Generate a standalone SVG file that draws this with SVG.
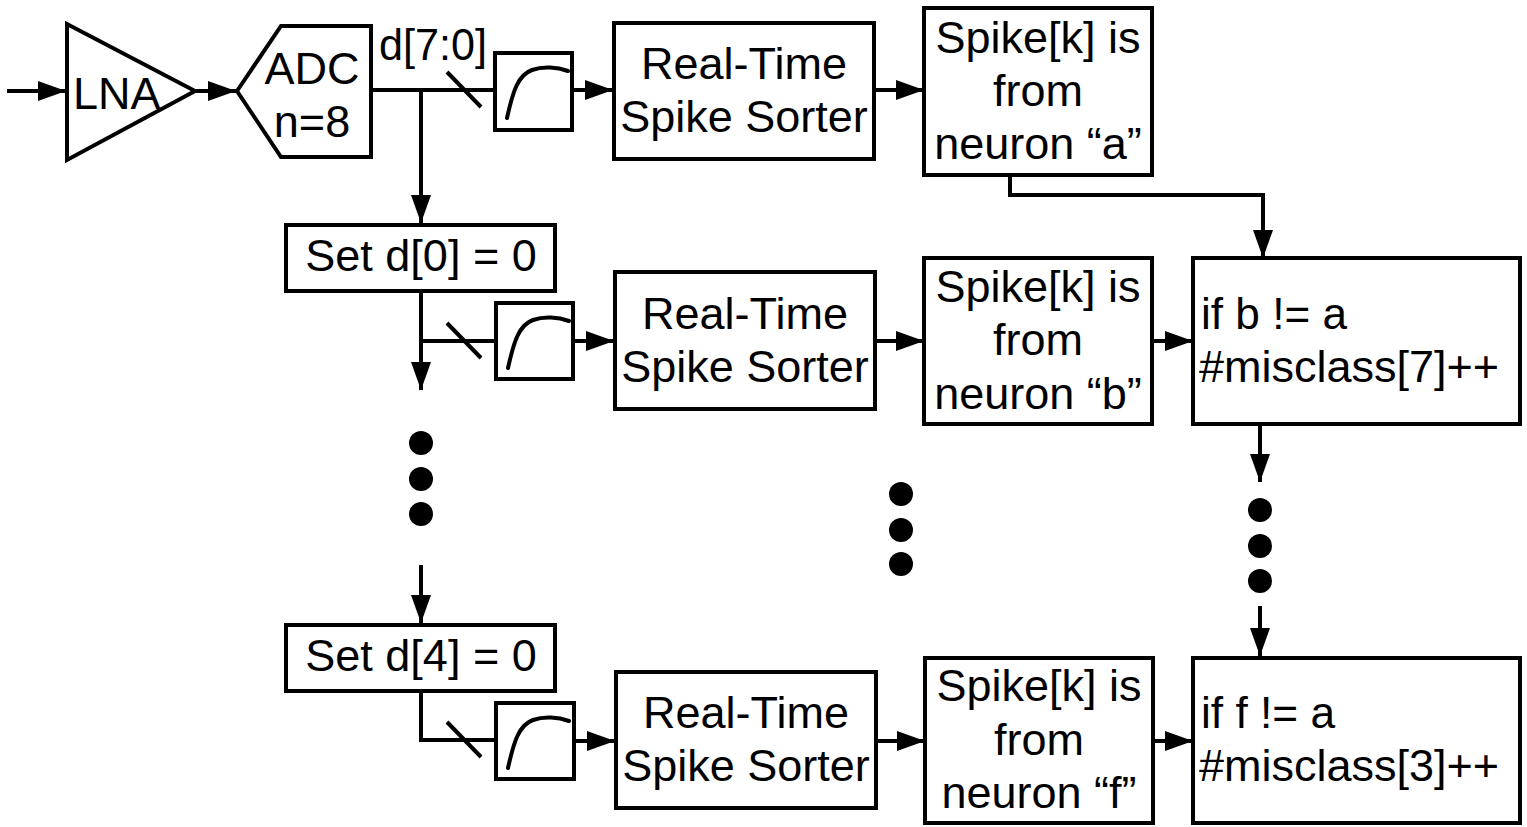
<svg xmlns="http://www.w3.org/2000/svg" width="1527" height="827" viewBox="0 0 1527 827">
<style>
.b{fill:#fff;stroke:#000;stroke-width:4;stroke-linejoin:miter}
.l{fill:none;stroke:#000;stroke-width:4}
.c{fill:none;stroke:#000;stroke-width:4;stroke-linecap:round}
text{font-family:"Liberation Sans",Arial,sans-serif;font-size:45px;fill:#000}
.m{text-anchor:middle}
.d{fill:#000}
</style>
<defs>
<marker id="a" markerUnits="userSpaceOnUse" markerWidth="28" markerHeight="22" refX="28" refY="11" orient="auto"><path d="M0 1L28 11L0 21Z" fill="#000"/></marker>
<g id="curve"><path class="c" d="M0 65C6 38 11 22 25 17C36 13 50 14 61 18"/></g>
</defs>
<rect width="1527" height="827" fill="#fff"/>
<g id="connectors">
<path class="l" d="M7 91H66" marker-end="url(#a)"/>
<path class="l" d="M196 91H236" marker-end="url(#a)"/>
<path class="l" d="M371 90H495"/>
<path class="l" d="M447 72L481 107"/>
<path class="l" d="M421 90V223" marker-end="url(#a)"/>
<path class="l" d="M572 90H613" marker-end="url(#a)"/>
<path class="l" d="M874 90H924" marker-end="url(#a)"/>
<path class="l" d="M1010 175V195H1263V258" marker-end="url(#a)"/>
<path class="l" d="M421 291V390" marker-end="url(#a)"/>
<path class="l" d="M421 341H496"/>
<path class="l" d="M447 323L481 358"/>
<path class="l" d="M573 341H614" marker-end="url(#a)"/>
<path class="l" d="M875 341H924" marker-end="url(#a)"/>
<path class="l" d="M1152 341H1193" marker-end="url(#a)"/>
<path class="l" d="M1260 424V482" marker-end="url(#a)"/>
<path class="l" d="M421 565V623" marker-end="url(#a)"/>
<path class="l" d="M1260 606V656" marker-end="url(#a)"/>
<path class="l" d="M421 691V740H496"/>
<path class="l" d="M447 722L481 757"/>
<path class="l" d="M574 741H615" marker-end="url(#a)"/>
<path class="l" d="M876 741H925" marker-end="url(#a)"/>
<path class="l" d="M1153 741H1193" marker-end="url(#a)"/>
</g>
<g id="lna"><path class="b" d="M67 24V160L195 91Z"/><text x="73" y="109">LNA</text></g>
<g id="adc"><path class="b" d="M237 91L281 26H371V157H281Z"/><text class="m" x="312" y="84">ADC</text><text class="m" x="312" y="137">n=8</text></g>
<g id="bus-label"><text x="379" y="60" textLength="108" lengthAdjust="spacingAndGlyphs">d[7:0]</text></g>
<g id="filter-1"><rect class="b" x="495" y="53" width="77" height="77"/><use href="#curve" x="507" y="53"/></g>
<g id="sorter-1"><rect class="b" x="614" y="23" width="260" height="136"/><text class="m" x="744" y="79">Real-Time</text><text class="m" x="744" y="132">Spike Sorter</text></g>
<g id="spike-a"><rect class="b" x="924" y="8" width="228" height="167"/><text class="m" x="1038" y="53">Spike[k] is</text><text class="m" x="1038" y="106">from</text><text class="m" x="1038" y="159">neuron “a”</text></g>
<g id="set-0"><rect class="b" x="286" y="225" width="269" height="66"/><text class="m" x="421" y="271">Set d[0] = 0</text></g>
<g id="filter-2"><rect class="b" x="496" y="303" width="77" height="76"/><use href="#curve" x="508" y="303"/></g>
<g id="sorter-2"><rect class="b" x="615" y="272" width="260" height="137"/><text class="m" x="745" y="329">Real-Time</text><text class="m" x="745" y="382">Spike Sorter</text></g>
<g id="spike-b"><rect class="b" x="924" y="258" width="228" height="166"/><text class="m" x="1038" y="302">Spike[k] is</text><text class="m" x="1038" y="355">from</text><text class="m" x="1038" y="409">neuron “b”</text></g>
<g id="misclass-7"><rect class="b" x="1193" y="258" width="327" height="166"/><text x="1201" y="329" textLength="146" lengthAdjust="spacingAndGlyphs">if b != a</text><text x="1199" y="382">#misclass[7]++</text></g>
<g id="dots-left"><circle class="d" cx="421" cy="443" r="12"/><circle class="d" cx="421" cy="479" r="12"/><circle class="d" cx="421" cy="514" r="12"/></g>
<g id="dots-mid"><circle class="d" cx="901" cy="494" r="12"/><circle class="d" cx="901" cy="530" r="12"/><circle class="d" cx="901" cy="564" r="12"/></g>
<g id="dots-right"><circle class="d" cx="1260" cy="510" r="12"/><circle class="d" cx="1260" cy="546" r="12"/><circle class="d" cx="1260" cy="581" r="12"/></g>
<g id="set-4"><rect class="b" x="286" y="625" width="269" height="66"/><text class="m" x="421" y="671">Set d[4] = 0</text></g>
<g id="filter-3"><rect class="b" x="496" y="703" width="78" height="76"/><use href="#curve" x="508" y="703"/></g>
<g id="sorter-3"><rect class="b" x="616" y="672" width="260" height="136"/><text class="m" x="746" y="728">Real-Time</text><text class="m" x="746" y="781">Spike Sorter</text></g>
<g id="spike-f"><rect class="b" x="925" y="658" width="228" height="165"/><text class="m" x="1039" y="701">Spike[k] is</text><text class="m" x="1039" y="755">from</text><text class="m" x="1039" y="808">neuron “f”</text></g>
<g id="misclass-3"><rect class="b" x="1193" y="658" width="327" height="165"/><text x="1201" y="728" textLength="134" lengthAdjust="spacingAndGlyphs">if f != a</text><text x="1199" y="781">#misclass[3]++</text></g>
</svg>
